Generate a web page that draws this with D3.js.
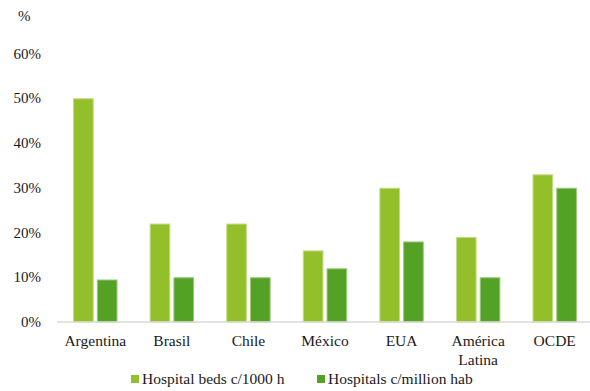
<!DOCTYPE html>
<html>
<head>
<meta charset="utf-8">
<script src="https://cdn.jsdelivr.net/npm/d3@7"></script>
<style>
  body { margin: 0; }
  #chart text { font-family: "Times New Roman", "Liberation Serif", Tinos, serif; }
</style>
</head>
<body>
<svg id="chart" width="590" height="391"></svg>
<script>
// Hospital capacity comparison by country/region
const categories = [["Argentina"], ["Brasil"], ["Chile"], ["México"], ["EUA"], ["América", "Latina"], ["OCDE"]];
const seriesNames = ["Hospital beds c/1000 h", "Hospitals c/million hab"];
const bedsPer1000 = [50, 22, 22, 16, 30, 19, 33];
const hospitalsPerMillion = [9.5, 10, 10, 12, 18, 10, 30];
const yTicks = [0, 10, 20, 30, 40, 50, 60];
const colors = ["#93c02a", "#53a125"];
const borders = ["#c2dc86", "#9cc97a"];
const serif = "Times New Roman";

const svg = d3.select("#chart");
const W = 590, H = 391;
const margin = { left: 57, right: -3, top: 53.5, bottom: 69 };

const x = d3.scaleBand()
  .domain(categories.map((d, i) => i))
  .range([margin.left, W - margin.right])
  .paddingInner(0.42)
  .paddingOuter(0.21);

const x1 = d3.scaleBand()
  .domain([0, 1])
  .range([0, x.bandwidth()])
  .paddingInner(0.13);

const y = d3.scaleLinear().domain([0, 60]).range([H - margin.bottom, margin.top]);

// value-axis labels
yTicks.forEach(t => {
  svg.append("text")
    .attr("font-family", serif)
    .attr("font-size", 15)
    .attr("fill", "#1a1a1a")
    .attr("text-anchor", "end")
    .attr("x", 41)
    .attr("y", y(t) + 5)
    .text(t + "%");
});

svg.append("text")
  .attr("x", 18).attr("y", 21)
  .attr("font-family", serif)
  .attr("font-size", 15)
  .attr("fill", "#1a1a1a")
  .text("%");

// bars
const series = [bedsPer1000, hospitalsPerMillion];
series.forEach((vals, s) => {
  svg.append("g").selectAll("rect")
    .data(vals)
    .join("rect")
    .attr("x", (d, i) => x(i) + x1(s) + 0.5)
    .attr("y", d => y(d) + 0.5)
    .attr("width", x1.bandwidth() - 1)
    .attr("height", d => y(0) - y(d) - 0.5)
    .attr("fill", colors[s])
    .attr("stroke", borders[s])
    .attr("stroke-width", 1);
});

// category baseline
svg.append("line")
  .attr("x1", x.range()[0]).attr("x2", x.range()[1])
  .attr("y1", y(0)).attr("y2", y(0))
  .attr("stroke", "#d9d9d9")
  .attr("stroke-width", 1.5);

// category labels (multi-line where needed)
categories.forEach((lines, i) => {
  const cx = x(i) + x.bandwidth() / 2;
  lines.forEach((line, k) => {
    svg.append("text")
      .attr("font-family", serif)
      .attr("font-size", 15.5)
      .attr("fill", "#1a1a1a")
      .attr("text-anchor", "middle")
      .attr("x", cx)
      .attr("y", y(0) + 24 + k * 19)
      .text(line);
  });
});

// legend
const legendX = [131, 317];
seriesNames.forEach((name, i) => {
  svg.append("rect")
    .attr("x", legendX[i]).attr("y", 375)
    .attr("width", 8).attr("height", 8)
    .attr("fill", colors[i]);
  svg.append("text")
    .attr("x", legendX[i] + 11).attr("y", 384)
    .attr("font-family", serif)
    .attr("font-size", 15.5)
    .attr("fill", "#1a1a1a")
    .text(name);
});
</script>
</body>
</html>
